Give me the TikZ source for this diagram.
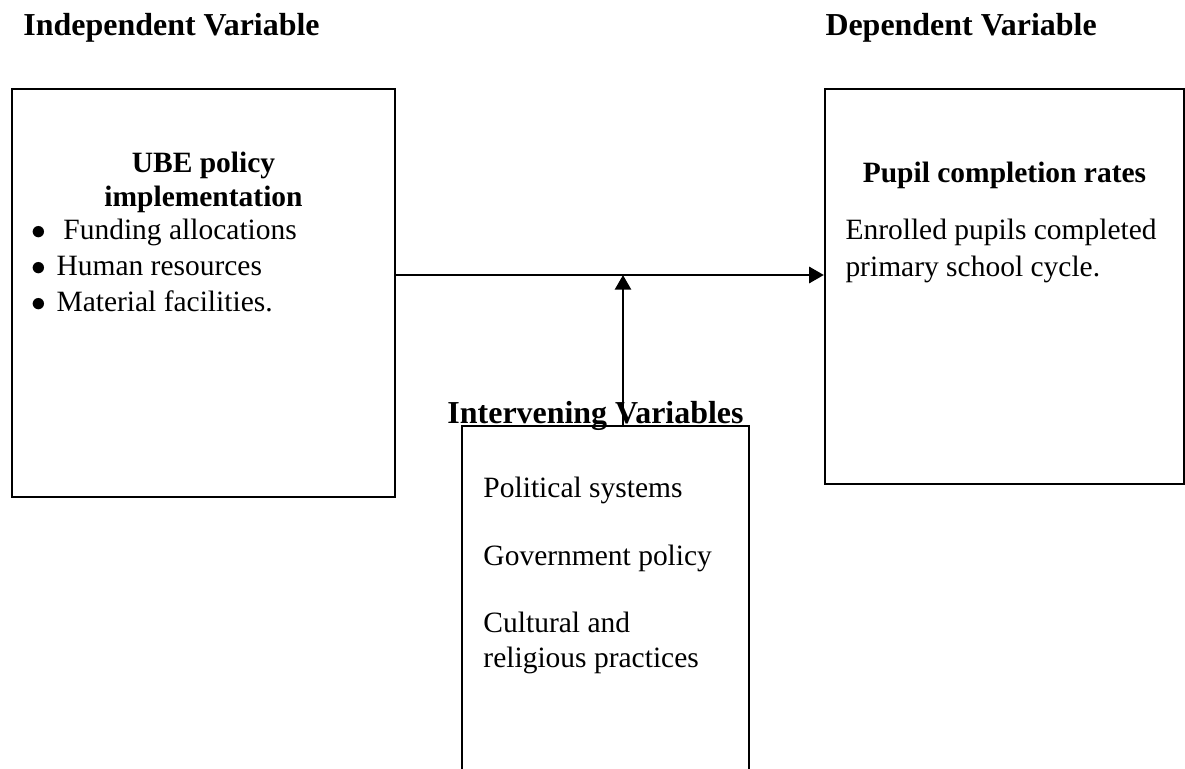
\documentclass[tikz,border=0pt]{standalone}
\usepackage{fontspec}
\setmainfont{Liberation Serif}
\usetikzlibrary{arrows.meta, positioning}

\begin{document}
\begin{tikzpicture}[
    x=0.407pt, y=-0.407pt,
    heading/.style={font=\fontsize{13}{15.6}\selectfont\bfseries, inner sep=0pt, anchor=base west},
    title/.style={font=\fontsize{12}{14.4}\selectfont\bfseries, inner sep=0pt, anchor=base},
    item/.style={font=\fontsize{12}{14.4}\selectfont, inner sep=0pt, anchor=base west},
    varbox/.style={rectangle, draw=black, line width=0.9pt, inner sep=0pt},
    arrow/.style={-{Triangle[length=6pt, width=6.5pt]}, line width=1.2pt}
]
    \useasboundingbox (0,0) rectangle (1185,769);
    \clip (0,0) rectangle (1185,769);

    % headings
    \node[heading] (indep) at (23,36) {Independent Variable};
    \node[heading] (dep) at (825,36) {Dependent Variable};

    % variable boxes
    \node[varbox, minimum width=155.9pt, minimum height=166.1pt] (ube) at (203.5,293) {};
    \node[varbox, minimum width=146.1pt, minimum height=160.8pt] (pupil) at (1004.5,286.5) {};
    \node[varbox, minimum width=116.8pt, minimum height=152.2pt] (inter) at (605.5,613) {};

    % independent variable
    \node[title] (ubea) at (203.5,173) {UBE policy};
    \node[title] (ubeb) at (203.5,207) {implementation};
    \node[item] (fund) at (31,240) {$\bullet$\hspace{7pt}Funding allocations};
    \node[item] (human) at (31,276) {$\bullet$\hspace{4.2pt}Human resources};
    \node[item] (material) at (31,312) {$\bullet$\hspace{4.2pt}Material facilities.};

    % dependent variable
    \node[title] (rates) at (1004.5,183) {Pupil completion rates};
    \node[item] (enrol) at (845,240) {Enrolled pupils completed};
    \node[item] (cycle) at (845,277) {primary school cycle.};

    % intervening variables
    \node[heading] (interv) at (447,423) {Intervening Variables};
    \node[item] (polit) at (483,497) {Political systems};
    \node[item] (govt) at (483,565) {Government policy};
    \node[item] (cult) at (483,632) {Cultural and};
    \node[item] (relig) at (483,667) {religious practices};

    \coordinate (join) at (623,275);
    \draw[arrow] (ube.east |- join) -- (pupil.west |- join);
    \draw[arrow] (inter.north -| join) -- (join);
\end{tikzpicture}
\end{document}
